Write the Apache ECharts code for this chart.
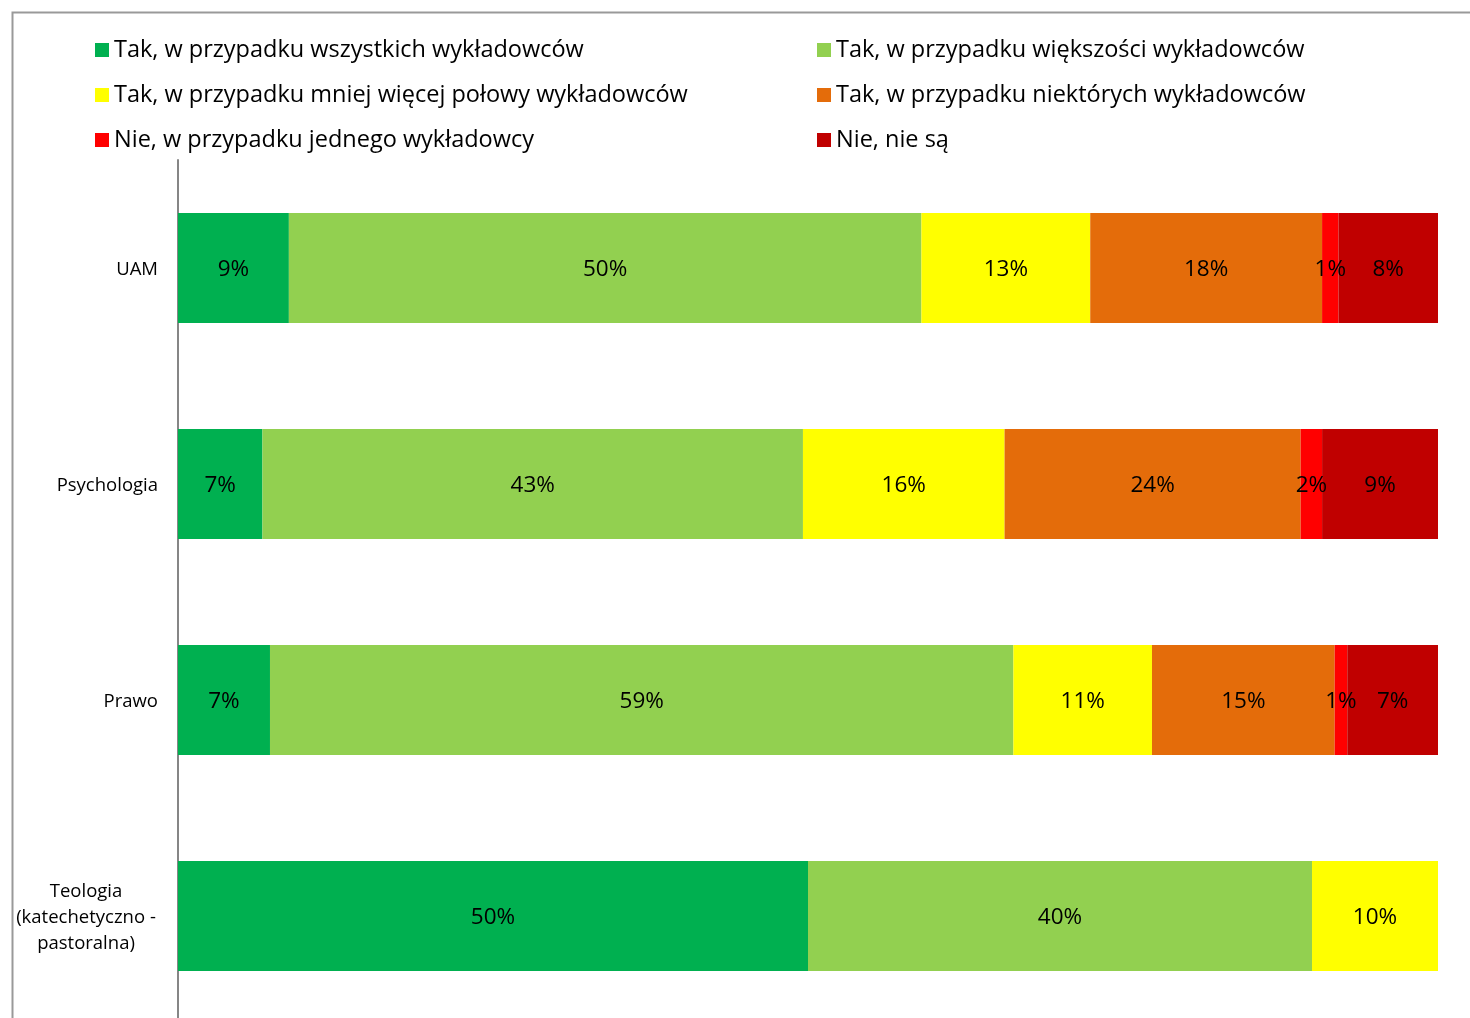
<!DOCTYPE html>
<html>
<head>
<meta charset="utf-8">
<script src="https://cdn.jsdelivr.net/npm/echarts@6/dist/echarts.min.js"></script>
<style>
  html, body { margin: 0; padding: 0; background: #fff; overflow: hidden; }
  #main { width: 1470px; height: 1030px; }
</style>
</head>
<body>
<div id="main"></div>
<script>
var categories = ['UAM', 'Psychologia', 'Prawo', 'Teologia (katechetyczno - pastoralna)'];

var seriesNames = [
    'Tak, w przypadku wszystkich wykładowców',
    'Tak, w przypadku większości wykładowców',
    'Tak, w przypadku mniej więcej połowy wykładowców',
    'Tak, w przypadku niektórych wykładowców',
    'Nie, w przypadku jednego wykładowcy',
    'Nie, nie są'
];
var colors = ['#00B050', '#92D050', '#FFFF00', '#E46C0A', '#FF0000', '#C00000'];

// percentages per category (UAM, Psychologia, Prawo, Teologia)
var wszystkich  = [8.8, 6.7, 7.3, 50.0];
var wiekszosci  = [50.2, 42.9, 59.0, 40.0];
var polowy      = [13.4, 16.0, 11.0, 10.0];
var niektorych  = [18.4, 23.5, 14.5, 0];
var jednego     = [1.3, 1.7, 1.0, 0];
var nieSa       = [7.9, 9.2, 7.2, 0];

var values = [wszystkich, wiekszosci, polowy, niektorych, jednego, nieSa];

var fontFamily = '"Open Sans", "Noto Sans", sans-serif';

var myChart = echarts.init(document.getElementById('main'));

var series = seriesNames.map(function (name, i) {
    return {
        name: name,
        type: 'bar',
        stack: 'total',
        barWidth: 110,
        itemStyle: { color: colors[i] },
        label: {
            show: true,
            position: 'inside',
            offset: [0, 2],
            color: '#000',
            fontFamily: fontFamily,
            fontSize: 22.5,
            formatter: function (p) {
                return p.value > 0 ? Math.round(p.value) + '%' : '';
            }
        },
        data: values[i]
    };
});

var legendText = {
    color: '#000',
    fontFamily: fontFamily,
    fontSize: 23.5,
    lineHeight: 26
};

myChart.setOption({
    animation: false,
    graphic: [{
        type: 'rect',
        left: 10,
        top: 10,
        shape: { width: 1520, height: 1100 },
        style: { fill: 'none', stroke: '#999', lineWidth: 2 }
    }],
    legend: [{
        left: 95,
        top: 37,
        padding: 0,
        orient: 'vertical',
        itemWidth: 14,
        itemHeight: 14,
        itemGap: 19,
        icon: 'rect',
        textStyle: legendText,
        data: [seriesNames[0], seriesNames[2], seriesNames[4]]
    }, {
        left: 817,
        top: 37,
        padding: 0,
        orient: 'vertical',
        itemWidth: 14,
        itemHeight: 14,
        itemGap: 19,
        icon: 'rect',
        textStyle: legendText,
        data: [seriesNames[1], seriesNames[3], seriesNames[5]]
    }],
    grid: {
        left: 178,
        right: 32,
        top: 160,
        height: 864,
        containLabel: false
    },
    xAxis: {
        type: 'value',
        min: 0,
        max: 100,
        show: false
    },
    yAxis: {
        type: 'category',
        inverse: true,
        data: categories,
        axisLine: { show: true, lineStyle: { color: '#868686', width: 2 } },
        axisTick: { show: false },
        axisLabel: {
            color: '#000',
            fontFamily: fontFamily,
            fontSize: 18.5,
            margin: 20,
            padding: [3, 0, 0, 0],
            formatter: function (v) {
                if (v.indexOf('Teologia') === 0) {
                    return '{t|Teologia}\n{t|(katechetyczno -}\n{t|pastoralna)}';
                }
                return v;
            },
            rich: {
                t: {
                    width: 144,
                    align: 'center',
                    color: '#000',
                    fontFamily: fontFamily,
                    fontSize: 18.5,
                    lineHeight: 26
                }
            }
        }
    },
    series: series
});
</script>
</body>
</html>
